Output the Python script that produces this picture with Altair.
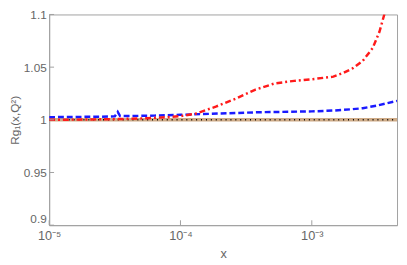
import altair as alt
import pandas as pd

# Red dash-dot curve (log10 x, R)
red_logx = [-5.0, -4.7, -4.478, -4.254, -4.1, -4.0, -3.881, -3.731, -3.582, -3.433,
            -3.284, -3.134, -3.0, -2.836, -2.761, -2.687, -2.612, -2.537, -2.485, -2.448, -2.43]
red_y = [1.0000, 1.0003, 1.0007, 1.0015, 1.0025, 1.0035, 1.0060, 1.0125, 1.0200, 1.0285,
         1.0345, 1.0370, 1.0385, 1.0410, 1.0445, 1.0490, 1.0560, 1.0680, 1.0836, 1.1000, 1.11]

# Blue dashed curve
blue_logx = [-5.0, -4.6, -4.5, -4.478, -4.46, -4.2, -4.0, -3.7, -3.4, -3.0,
             -2.836, -2.7, -2.612, -2.5, -2.351]
blue_y = [1.0025, 1.0030, 1.0033, 1.0075, 1.0035, 1.0040, 1.0048, 1.0060, 1.0072, 1.0080,
          1.0088, 1.0100, 1.0110, 1.0136, 1.0180]

# Flat curves at 1
flat_logx = [-5.0, -2.351]
flat_y = [1.0, 1.0]

x_ticks = [1e-5, 1e-4, 1e-3]
y_ticks = [0.9, 0.95, 1.0, 1.05, 1.1]

def mk(logx, ys, name):
    return pd.DataFrame({"x": [10 ** v for v in logx], "y": ys, "s": name})

red = mk(red_logx, red_y, "red")
blue = mk(blue_logx, blue_y, "blue")
flat = mk(flat_logx, flat_y, "flat")

GRAY = "#a0a0a0"
TXT = "#666666"
H = 215
xscale = alt.Scale(type="log", domain=[1e-5, 10 ** -2.351])
yscale = alt.Scale(domain=[0.9, 1.1])

label_expr = ("datum.value < 5e-5 ? '10⁻⁵' : datum.value < 5e-4 ? '10⁻⁴' : '10⁻³'")

X = alt.X("x:Q", scale=xscale, title="x",
          axis=alt.Axis(values=x_ticks, labelExpr=label_expr, ticks=False, grid=False,
                        domainColor=GRAY, labelColor=TXT, labelFontSize=13,
                        titleColor=TXT, titleFontSize=13, titleFontWeight="normal",
                        labelPadding=5, titlePadding=5, labelFlush=False))
Y = alt.Y("y:Q", scale=yscale, title="Rg₁(x,Q²)",
          axis=alt.Axis(values=y_ticks, ticks=False, grid=False, domainColor=GRAY,
                        labelColor=TXT, labelFontSize=12, titleColor=TXT,
                        titleFontSize=12, titleFontWeight="normal", labelPadding=3,
                        titlePadding=2, labelFlush=False,
                        labelBaseline=alt.ExprRef(expr="datum.value < 0.91 ? 'bottom' : 'middle'"),
                        labelExpr="datum.value == 1 ? '1' : format(datum.value, '.3~f')"))

tan = alt.Chart(flat).mark_line(color="#c9a27a", strokeWidth=3.5, opacity=0.9).encode(x=X, y=Y)
black = alt.Chart(flat).mark_line(color="black", strokeWidth=1.5, strokeDash=[1, 4]).encode(x=X, y=Y)
blue_l = alt.Chart(blue).mark_line(color="#1a1aff", strokeWidth=2.5, strokeDash=[6, 3], clip=True).encode(x=X, y=Y)
red_l = alt.Chart(red).mark_line(color="#ff1a1a", strokeWidth=2.5, strokeDash=[6, 3, 2, 3], clip=True).encode(x=X, y=Y)

ytick_df = pd.DataFrame({"v": y_ticks})
xtick_df = pd.DataFrame({"v": x_ticks})
yt = alt.Chart(ytick_df).mark_rule(color=GRAY, strokeWidth=1).encode(
    y=alt.Y("v:Q", scale=yscale), x=alt.value(0), x2=alt.value(5))
xt = alt.Chart(xtick_df).mark_rule(color=GRAY, strokeWidth=1).encode(
    x=alt.X("v:Q", scale=xscale), y=alt.value(H), y2=alt.value(H - 5))

chart = alt.layer(tan, black, blue_l, red_l, yt, xt).properties(
    width=355, height=H,
    padding={"left": 42, "top": 4, "right": 2, "bottom": 36},
    autosize=alt.AutoSizeParams(type="none"),
).configure_view(stroke=GRAY, strokeWidth=1).configure_axis(labelFont="Liberation Sans", titleFont="Liberation Sans")

chart.save("out.html", embed_options={"renderer": "svg", "actions": False})
